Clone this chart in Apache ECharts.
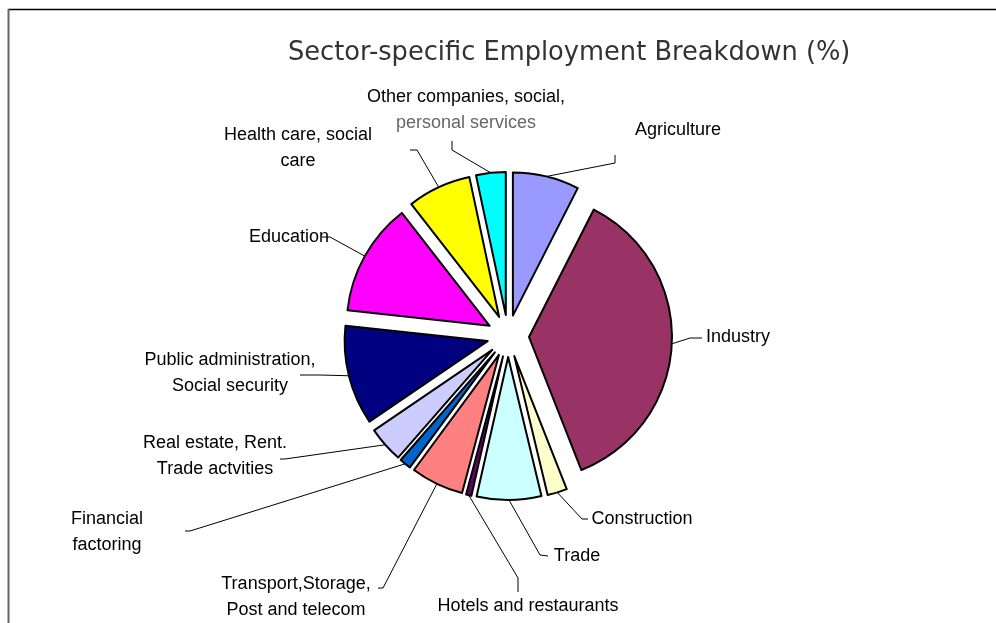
<!DOCTYPE html>
<html>
<head>
<meta charset="utf-8">
<script src="https://cdn.jsdelivr.net/npm/echarts@6/dist/echarts.min.js"></script>
<style>html,body{margin:0;padding:0;background:#fff}#main{width:996px;height:623px}</style>
</head>
<body>
<div id="main"></div>
<script>
// ---- data ----
const sectors = [
  'Agriculture', 'Industry', 'Construction', 'Trade', 'Hotels and restaurants',
  'Transport,Storage,\nPost and telecom', 'Financial\nfactoring',
  'Real estate, Rent.\nTrade actvities', 'Public administration,\nSocial security',
  'Education', 'Health care, social\ncare', 'Other companies, social,\npersonal services'
];
const shares = [7.4, 36.1, 2.2, 7.2, 0.6, 5.9, 1.3, 4.0, 11.1, 12.6, 7.1, 3.3];
const colors = ['#9999FF', '#993366', '#FFFFCC', '#CCFFFF', '#660066', '#FF8080',
  '#0066CC', '#CCCCFF', '#000080', '#FF00FF', '#FFFF00', '#00FFFF'];
const titleText = 'Sector-specific Employment Breakdown (%)';

// ---- layout (positions of labels and leader-line bends) ----
const CX = 508, CY = 336, R = 143, OFFSET = 21;
const labelPos = [
  [678, 130], [738, 337], [642, 519], [577, 556], [528, 606], [296, 597],
  [107, 532], [215, 456], [230, 373], [289, 237], [298, 148], [466, 110]
];
const lineBends = [
  [[615, 163], [615, 155]],
  [[690, 338], [702, 338]],
  [[582, 519], [588, 519]],
  [[540, 555], [548, 556]],
  [[518, 578], [518, 592]],
  [[383, 588], [378, 588]],
  [[190, 531], [185, 531]],
  [[285, 459], [280, 459]],
  [[320, 375], [300, 375]],
  [[330, 237], [322, 237]],
  [[417, 150], [410, 150]],
  [[452, 150], [452, 141]]
];

const total = shares.reduce((a, b) => a + b, 0);
const midAngles = [];
let acc = 0;
shares.forEach(v => { midAngles.push((acc + v / 2) / total * 2 * Math.PI); acc += v; });

const labelFont = {fontFamily: 'Liberation Sans', fontSize: 18, lineHeight: 26, color: '#000'};

// one pie series per sector, each drawn with its own exploded centre
const series = sectors.map((_, i) => {
  const a = midAngles[i];
  const cx = CX + OFFSET * Math.sin(a), cy = CY - OFFSET * Math.cos(a);
  return {
    type: 'pie',
    center: [cx, cy],
    radius: [0, R],
    startAngle: 90,
    clockwise: true,
    avoidLabelOverlap: false,
    silent: true,
    emphasis: {disabled: true},
    label: {show: false},
    labelLine: {show: false},
    labelLayout: function (params) {
      const j = params.dataIndex;
      const start = [cx + R * Math.sin(a), cy - R * Math.cos(a)];
      return {
        x: labelPos[j][0], y: labelPos[j][1],
        align: 'center', verticalAlign: 'middle',
        labelLinePoints: [start, lineBends[j][0], lineBends[j][1]]
      };
    },
    data: sectors.map((s, j) => ({
      name: s, value: shares[j],
      itemStyle: j === i
        ? {color: colors[j], borderColor: '#000', borderWidth: 2}
        : {color: 'rgba(0,0,0,0)', borderWidth: 0},
      label: j === i ? Object.assign({
        show: true, align: 'center',
        formatter: j === 11
          ? '{a|Other companies, social,}\n{b|personal services}'
          : '{name|' + s.split('\n').join('}\n{name|') + '}',
        rich: {
          name: labelFont,
          a: labelFont,
          b: Object.assign({}, labelFont, {color: '#666'})
        }
      }, labelFont) : {show: false},
      labelLine: j === i
        ? {show: true, length: 10, length2: 10, lineStyle: {color: '#000', width: 1}}
        : {show: false}
    }))
  };
});

const chart = echarts.init(document.getElementById('main'), null, {renderer: 'canvas'});
chart.setOption({
  animation: false,
  backgroundColor: '#fff',
  title: {
    text: titleText, left: 283, top: 35,
    textStyle: {fontFamily: 'DejaVu Sans', fontSize: 25.7, fontWeight: 'normal', color: '#333'}
  },
  graphic: [
    {type: 'line', shape: {x1: 8, y1: 9.5, x2: 996, y2: 9.5}, style: {stroke: '#000', lineWidth: 1.5}},
    {type: 'line', shape: {x1: 8.5, y1: 9, x2: 8.5, y2: 623}, style: {stroke: '#666', lineWidth: 2}}
  ],
  series: series
});
</script>
</body>
</html>
